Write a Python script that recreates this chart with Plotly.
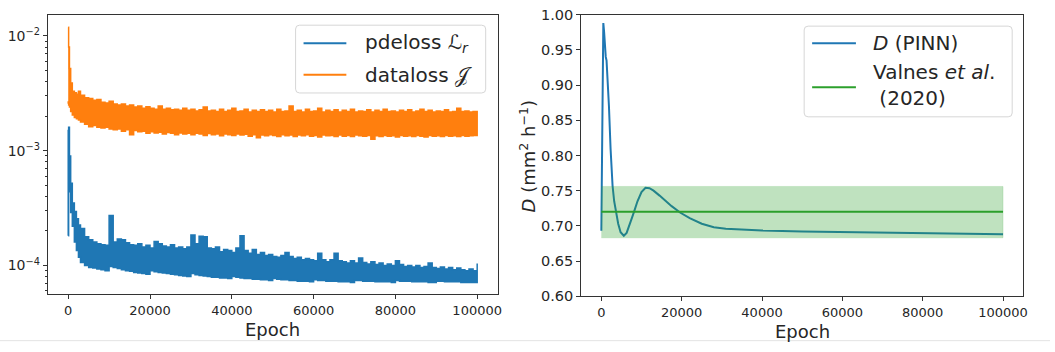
import plotly.graph_objects as go

W, H = 1055, 352

# ---------------- data: left panel (loss envelopes) ----------------
epochs = [0, 100, 300, 600, 1000, 1500, 2000, 2500] + list(range(3000, 100001, 1000))

pdeloss_hi = [1.82e-4, 1.6e-3, 9.0e-4, 5.2e-4, 3.5e-4, 2.95e-4, 2.55e-4, 2.25e-4,
    2.1e-4, 1.78e-4, 1.68e-4, 1.6e-4, 1.55e-4, 1.52e-4, 1.5e-4, 2.73e-4, 1.6e-4, 1.7e-4,
    1.68e-4, 1.58e-4, 1.52e-4, 1.5e-4, 1.55e-4, 1.45e-4, 1.5e-4, 1.42e-4, 1.62e-4, 1.55e-4,
    1.48e-4, 1.45e-4, 1.52e-4, 1.42e-4, 1.45e-4, 1.4e-4, 1.45e-4, 1.84e-4, 1.55e-4, 1.8e-4,
    1.78e-4, 1.42e-4, 1.4e-4, 1.45e-4, 1.32e-4, 1.38e-4, 1.35e-4, 1.3e-4, 1.42e-4, 1.82e-4,
    1.35e-4, 1.28e-4, 1.38e-4, 1.25e-4, 1.3e-4, 1.22e-4, 1.25e-4, 1.2e-4, 1.18e-4, 1.22e-4,
    1.3e-4, 1.2e-4, 1.15e-4, 1.18e-4, 1.12e-4, 1.15e-4, 1.12e-4, 1.1e-4, 1.28e-4, 1.12e-4,
    1.08e-4, 1.12e-4, 1.28e-4, 1.1e-4, 1.08e-4, 1.05e-4, 1.1e-4, 1.05e-4, 1.16e-4, 1.06e-4,
    1.03e-4, 1.08e-4, 1.02e-4, 1.05e-4, 1.0e-4, 1.03e-4, 1.0e-4, 1.1e-4, 1.02e-4, 9.8e-5,
    1.0e-4, 9.7e-5, 1.0e-4, 9.6e-5, 9.8e-5, 1.05e-4, 9.6e-5, 9.4e-5, 9.7e-5, 9.3e-5, 9.6e-5,
    9.2e-5, 9.5e-5, 9.2e-5, 9.0e-5, 9.3e-5, 9.0e-5, 1.04e-4]

pdeloss_lo = [1.82e-4, 1.5e-3, 8.0e-4, 4.4e-4, 2.9e-4, 2.2e-4, 1.6e-4, 1.35e-4,
    1.18e-4, 1.06e-4, 1.0e-4, 9.6e-5, 9.5e-5, 9.3e-5, 9.2e-5, 9.0e-5, 9.8e-5, 9.6e-5,
    9.4e-5, 9.2e-5, 9.0e-5, 8.9e-5, 8.7e-5, 8.6e-5, 8.5e-5, 8.4e-5, 9.0e-5, 8.8e-5, 8.7e-5,
    8.6e-5, 8.5e-5, 8.4e-5, 8.3e-5, 8.2e-5, 8.1e-5, 8.0e-5, 8.5e-5, 8.3e-5, 8.2e-5, 8.1e-5,
    8.0e-5, 7.9e-5, 7.9e-5, 7.8e-5, 7.8e-5, 7.7e-5, 8.0e-5, 7.9e-5, 7.8e-5, 7.7e-5, 7.7e-5,
    7.6e-5, 7.6e-5, 7.5e-5, 7.5e-5, 7.4e-5, 7.7e-5, 7.6e-5, 7.5e-5, 7.5e-5, 7.4e-5, 7.4e-5,
    7.3e-5, 7.3e-5, 7.3e-5, 7.2e-5, 7.5e-5, 7.4e-5, 7.4e-5, 7.3e-5, 7.3e-5, 7.3e-5, 7.2e-5,
    7.2e-5, 7.2e-5, 7.1e-5, 7.4e-5, 7.4e-5, 7.3e-5, 7.3e-5, 7.3e-5, 7.2e-5, 7.2e-5, 7.2e-5,
    7.2e-5, 7.1e-5, 7.4e-5, 7.3e-5, 7.3e-5, 7.3e-5, 7.2e-5, 7.2e-5, 7.2e-5, 7.2e-5, 7.1e-5,
    7.1e-5, 7.3e-5, 7.3e-5, 7.2e-5, 7.2e-5, 7.2e-5, 7.2e-5, 7.1e-5, 7.1e-5, 7.1e-5, 7.1e-5]

dataloss_hi = [1.19e-2, 8.0e-3, 5.2e-3, 3.9e-3, 3.3e-3, 3.2e-3, 3.1e-3, 3.3e-3,
    3.05e-3, 2.9e-3, 2.85e-3, 2.75e-3, 2.8e-3, 2.65e-3, 2.6e-3, 2.7e-3, 2.55e-3, 2.5e-3,
    2.55e-3, 2.45e-3, 2.5e-3, 2.4e-3, 2.45e-3, 2.35e-3, 2.42e-3, 2.35e-3, 2.3e-3, 2.45e-3,
    2.3e-3, 2.35e-3, 2.28e-3, 2.3e-3, 2.25e-3, 2.35e-3, 2.25e-3, 2.3e-3, 2.22e-3, 2.28e-3,
    2.4e-3, 2.22e-3, 2.25e-3, 2.2e-3, 2.3e-3, 2.2e-3, 2.25e-3, 2.35e-3, 2.2e-3, 2.22e-3,
    2.3e-3, 2.18e-3, 2.25e-3, 2.2e-3, 2.28e-3, 2.2e-3, 2.25e-3, 2.18e-3, 2.3e-3, 2.2e-3,
    2.22e-3, 2.45e-3, 2.2e-3, 2.25e-3, 2.18e-3, 2.3e-3, 2.2e-3, 2.22e-3, 2.35e-3, 2.18e-3,
    2.25e-3, 2.2e-3, 2.28e-3, 2.18e-3, 2.25e-3, 2.2e-3, 2.3e-3, 2.18e-3, 2.22e-3, 2.2e-3,
    2.28e-3, 2.18e-3, 2.25e-3, 2.2e-3, 2.3e-3, 2.2e-3, 2.22e-3, 2.18e-3, 2.25e-3, 2.2e-3,
    2.28e-3, 2.18e-3, 2.22e-3, 2.3e-3, 2.2e-3, 2.25e-3, 2.18e-3, 2.22e-3, 2.2e-3, 2.28e-3,
    2.18e-3, 2.2e-3, 2.35e-3, 2.2e-3, 2.22e-3, 2.18e-3, 2.2e-3, 2.1e-3]

dataloss_lo = [2.7e-3, 2.6e-3, 2.5e-3, 2.4e-3, 2.2e-3, 2.05e-3, 1.95e-3, 1.9e-3,
    1.85e-3, 1.78e-3, 1.7e-3, 1.62e-3, 1.66e-3, 1.6e-3, 1.58e-3, 1.6e-3, 1.55e-3, 1.52e-3,
    1.55e-3, 1.48e-3, 1.52e-3, 1.38e-3, 1.5e-3, 1.46e-3, 1.48e-3, 1.42e-3, 1.46e-3, 1.43e-3,
    1.45e-3, 1.4e-3, 1.44e-3, 1.42e-3, 1.38e-3, 1.43e-3, 1.4e-3, 1.42e-3, 1.38e-3, 1.42e-3,
    1.4e-3, 1.36e-3, 1.41e-3, 1.38e-3, 1.4e-3, 1.35e-3, 1.4e-3, 1.38e-3, 1.36e-3, 1.4e-3,
    1.37e-3, 1.39e-3, 1.34e-3, 1.38e-3, 1.3e-3, 1.37e-3, 1.35e-3, 1.38e-3, 1.36e-3, 1.33e-3,
    1.38e-3, 1.35e-3, 1.37e-3, 1.33e-3, 1.37e-3, 1.35e-3, 1.38e-3, 1.34e-3, 1.36e-3, 1.32e-3,
    1.37e-3, 1.35e-3, 1.36e-3, 1.33e-3, 1.37e-3, 1.34e-3, 1.36e-3, 1.33e-3, 1.37e-3, 1.35e-3,
    1.34e-3, 1.36e-3, 1.26e-3, 1.35e-3, 1.33e-3, 1.36e-3, 1.34e-3, 1.35e-3, 1.32e-3, 1.36e-3,
    1.34e-3, 1.35e-3, 1.33e-3, 1.36e-3, 1.34e-3, 1.32e-3, 1.36e-3, 1.34e-3, 1.35e-3, 1.33e-3,
    1.36e-3, 1.34e-3, 1.35e-3, 1.33e-3, 1.36e-3, 1.34e-3, 1.35e-3, 1.36e-3]

# ---------------- data: right panel ----------------
d_epoch = [0, 250, 500, 700, 900, 1100, 1300, 1600, 1900, 2300, 2800, 3200, 3650, 4200,
           4800, 5600, 6300, 7000, 7600, 8200, 9000, 10000, 11000, 12000, 13000, 14500,
           16000, 17500, 19600, 22000, 25000, 28000, 31000, 35000, 40000, 50000, 60000,
           70000, 80000, 90000, 100000]
d_pinn = [0.693, 0.90, 0.988, 0.975, 0.95, 0.94, 0.935, 0.905, 0.87, 0.81, 0.757, 0.735,
          0.72, 0.703, 0.691, 0.686, 0.690, 0.700, 0.711, 0.721, 0.735, 0.748, 0.754,
          0.7535, 0.750, 0.743, 0.735, 0.728, 0.719, 0.711, 0.703, 0.698, 0.696, 0.6945,
          0.6935, 0.692, 0.691, 0.690, 0.689, 0.6885, 0.688]
valnes_epoch = [0, 100000]
valnes_mean = 0.72
valnes_low = 0.683
valnes_high = 0.756

x_ticks = [0, 20000, 40000, 60000, 80000, 100000]
d_ticks = [0.60, 0.65, 0.70, 0.75, 0.80, 0.85, 0.90, 0.95, 1.00]
log_ticks = [1e-4, 1e-3, 1e-2]
log_ticktext = ["10<sup>\u22124</sup>", "10<sup>\u22123</sup>", "10<sup>\u22122</sup>"]
log_minor = [6e-5, 7e-5, 8e-5, 9e-5] + [k * 1e-4 for k in range(2, 10)] + [k * 1e-3 for k in range(2, 10)]

BLUE = "#1f77b4"
ORANGE = "#ff7f0e"
GREEN = "#2ca02c"
TXT = "#262626"
FONT = "DejaVu Sans"

fig = go.Figure()

# loss bands (filled between read-off upper and lower envelopes)
fig.add_trace(go.Scatter(x=epochs + epochs[::-1], y=pdeloss_hi + pdeloss_lo[::-1],
                         fill="toself", fillcolor=BLUE, mode="lines",
                         line=dict(color=BLUE, width=1.5, shape="hv"), xaxis="x", yaxis="y",
                         showlegend=False, hoverinfo="skip"))
fig.add_trace(go.Scatter(x=epochs + epochs[::-1], y=dataloss_hi + dataloss_lo[::-1],
                         fill="toself", fillcolor=ORANGE, mode="lines",
                         line=dict(color=ORANGE, width=1.5, shape="hv"), xaxis="x", yaxis="y",
                         showlegend=False, hoverinfo="skip"))

# right panel
fig.add_trace(go.Scatter(x=d_epoch, y=d_pinn, mode="lines", line=dict(color=BLUE, width=2),
                         xaxis="x2", yaxis="y2", showlegend=False))
fig.add_trace(go.Scatter(x=valnes_epoch, y=[valnes_mean] * 2, mode="lines",
                         line=dict(color=GREEN, width=2), xaxis="x2", yaxis="y2", showlegend=False))
fig.add_trace(go.Scatter(x=valnes_epoch + valnes_epoch[::-1],
                         y=[valnes_high] * 2 + [valnes_low] * 2, fill="toself",
                         fillcolor="rgba(44,160,44,0.3)", mode="lines",
                         line=dict(color="rgba(44,160,44,0.3)", width=0.5),
                         xaxis="x2", yaxis="y2", showlegend=False))


def px(x):
    return x / W


def py(y):
    return 1 - y / H


axis_common = dict(showline=True, mirror=True, linecolor="#333333", linewidth=1,
                   ticks="outside", ticklen=4, tickcolor="#333333", tickwidth=1,
                   showgrid=False, zeroline=False, ticklabeloverflow="allow")

fig.update_layout(
    width=W, height=H, margin=dict(l=0, r=0, t=0, b=0),
    paper_bgcolor="white", plot_bgcolor="white", showlegend=False,
    xaxis=dict(domain=[px(48), px(500)], range=[-5000, 105000], tickvals=x_ticks,
               tickformat="d", anchor="y", tickfont=dict(family=FONT, size=13, color=TXT),
               **axis_common),
    yaxis=dict(domain=[py(300), py(7)], type="log", range=[-4.2515, -1.8145],
               tickvals=log_ticks, ticktext=log_ticktext, anchor="x",
               tickfont=dict(family=FONT, size=14, color=TXT),
               minor=dict(tickvals=log_minor, ticklen=2, tickcolor="#333333", ticks="outside"),
               **axis_common),
    xaxis2=dict(domain=[px(584), px(1028)], range=[-5000, 105000], tickvals=x_ticks,
                tickformat="d", anchor="y2", tickfont=dict(family=FONT, size=13, color=TXT),
                **axis_common),
    yaxis2=dict(domain=[py(302), py(7)], range=[0.6, 1.0], tickvals=d_ticks,
                ticktext=[f"{v:.2f}" for v in d_ticks], anchor="x2",
                tickfont=dict(family=FONT, size=14.5, color=TXT),
                **axis_common),
)

ann = []
# axis titles
ann.append(dict(x=px(274), y=py(337), xref="paper", yref="paper", text="Epoch", showarrow=False,
                font=dict(family=FONT, size=18, color=TXT), xanchor="center", yanchor="middle"))
ann.append(dict(x=px(806), y=py(339), xref="paper", yref="paper", text="Epoch", showarrow=False,
                font=dict(family=FONT, size=18, color=TXT), xanchor="center", yanchor="middle"))
ann.append(dict(x=px(530), y=py(155), xref="paper", yref="paper",
                text="<i>D</i> (mm<sup>2</sup> h<sup>\u22121</sup>)", showarrow=False, textangle=-90,
                font=dict(family=FONT, size=18, color=TXT), xanchor="center", yanchor="middle"))

shapes = []


def legend_box(x0, y0, x1, y1, r=4):
    X0, X1 = px(x0), px(x1)
    Y0, Y1 = py(y0), py(y1)
    rx, ry = r / W, r / H
    path = (f"M {X0+rx},{Y0} L {X1-rx},{Y0} Q {X1},{Y0} {X1},{Y0-ry} "
            f"L {X1},{Y1+ry} Q {X1},{Y1} {X1-rx},{Y1} L {X0+rx},{Y1} Q {X0},{Y1} {X0},{Y1+ry} "
            f"L {X0},{Y0-ry} Q {X0},{Y0} {X0+rx},{Y0} Z")
    shapes.append(dict(type="path", path=path, xref="paper", yref="paper",
                       fillcolor="rgba(255,255,255,0.8)", line=dict(color="#d6d6d6", width=1)))


def legend_line(x0, x1, y, color):
    shapes.append(dict(type="line", x0=px(x0), x1=px(x1), y0=py(y), y1=py(y), xref="paper",
                       yref="paper", line=dict(color=color, width=2)))


def legend_text(x, y, text):
    ann.append(dict(x=px(x), y=py(y), xref="paper", yref="paper", text=text, showarrow=False,
                    font=dict(family=FONT, size=20, color=TXT), xanchor="left", yanchor="middle",
                    align="left"))


legend_box(297, 18, 488, 89)
legend_line(305, 348, 37, BLUE)
legend_line(305, 348, 70, ORANGE)
legend_text(365, 37, "pdeloss \u2112<sub><i>r</i></sub>")
legend_text(365, 70, "dataloss \U0001D4A5")

legend_box(808, 19, 1017, 114)
legend_line(816, 860, 37, BLUE)
legend_line(816, 860, 83, GREEN)
legend_text(875, 37, "<i>D</i> (PINN)")
legend_text(875, 81, "Valnes <i>et al</i>.<br>\u00a0(2020)")

# thin light border seen at the bottom of the reference picture
shapes.append(dict(type="line", x0=0, x1=1, y0=py(348.5), y1=py(348.5), xref="paper",
                   yref="paper", line=dict(color="#e3e3e3", width=1)))

fig.update_layout(annotations=ann, shapes=shapes)
fig.write_html("out.html")
